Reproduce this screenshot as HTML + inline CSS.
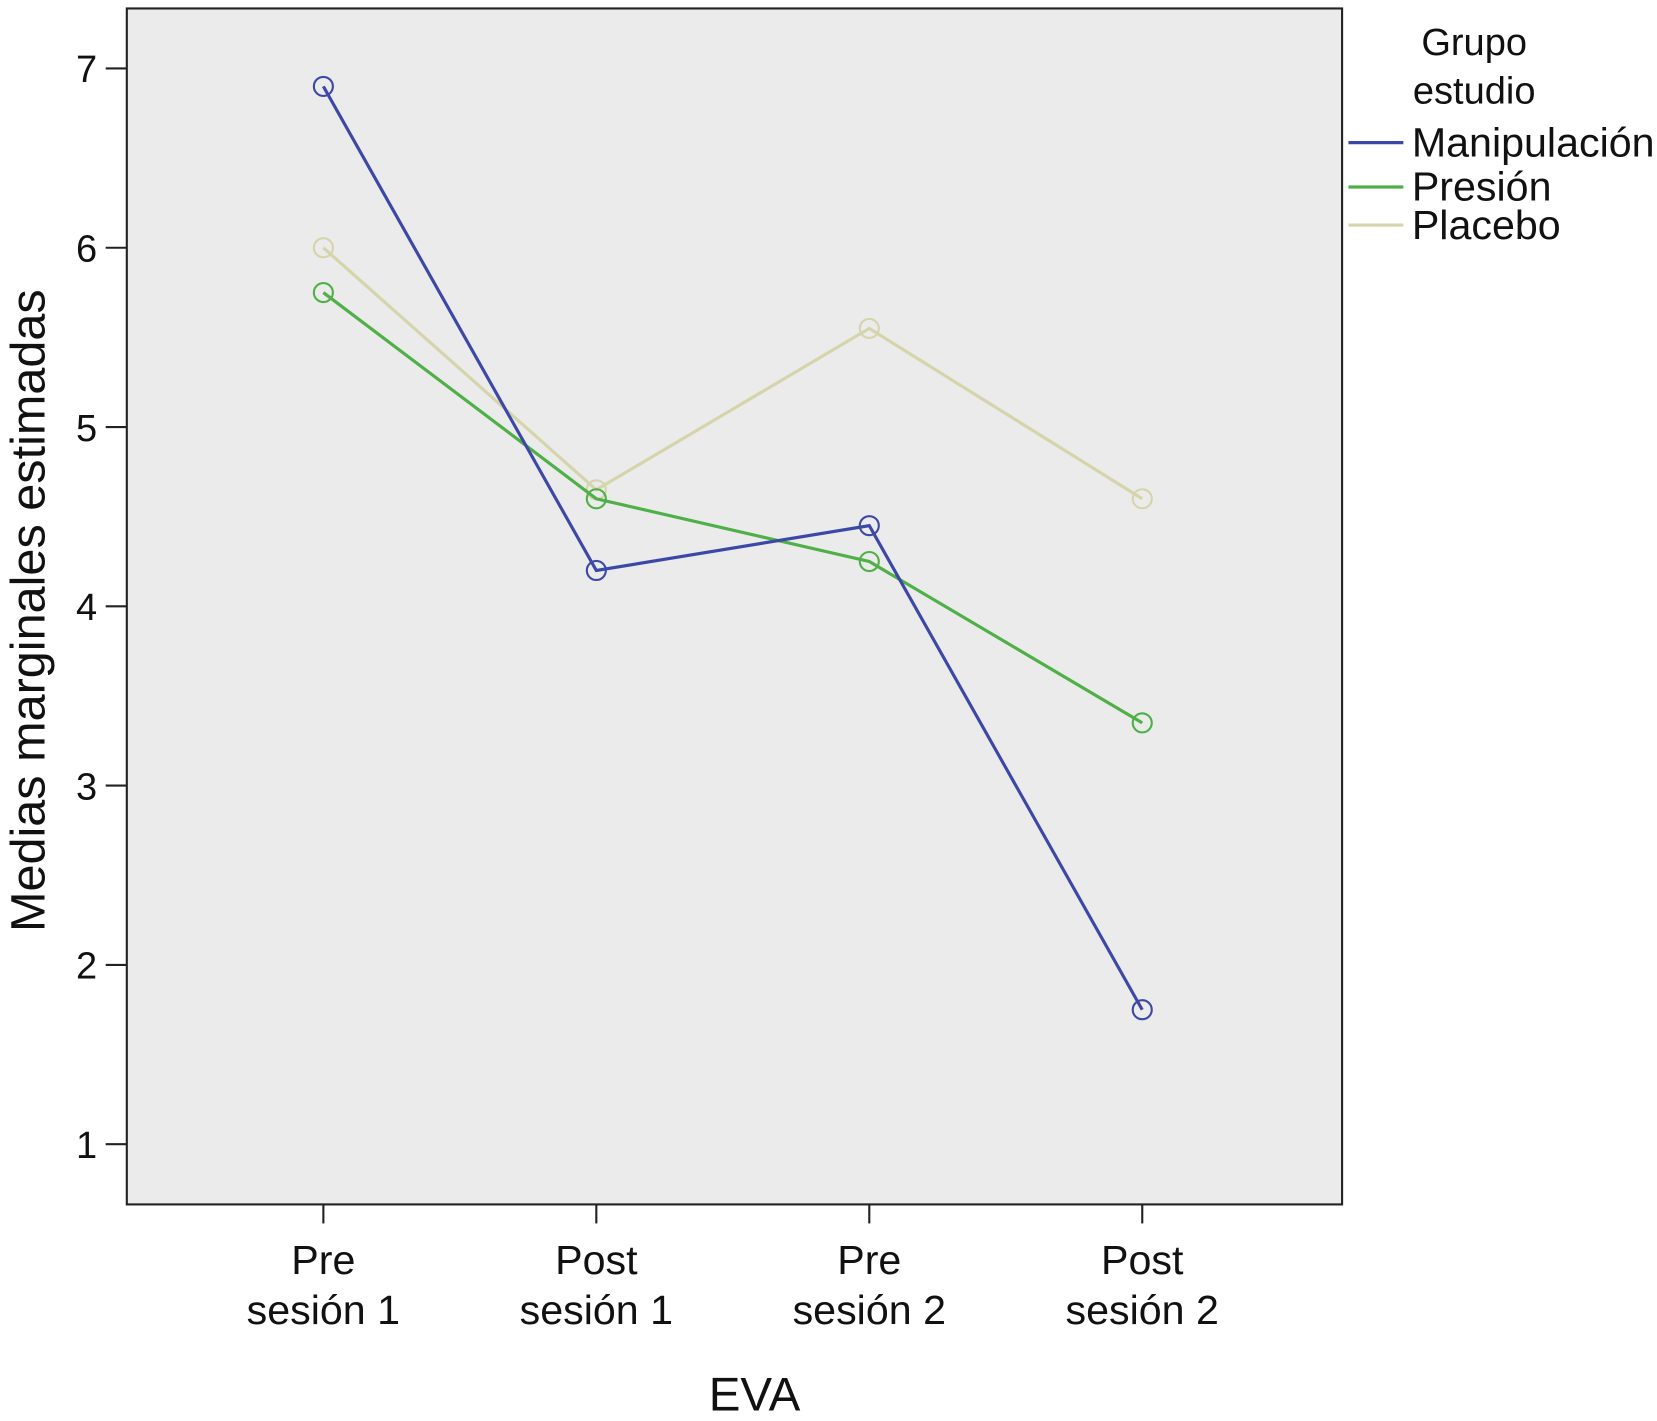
<!DOCTYPE html>
<html><head><meta charset="utf-8"><style>
html,body{margin:0;padding:0;background:#fff;}
svg{display:block;}
text{font-family:"Liberation Sans",sans-serif;fill:#111;}
</style></head><body>
<svg id="chart" width="1657" height="1421" viewBox="0 0 1568 1345" preserveAspectRatio="none" xmlns="http://www.w3.org/2000/svg">
<rect x="120" y="8" width="1150" height="1132" fill="#ebebeb" stroke="#222" stroke-width="2"/>
<g id="yaxis"></g>
<g id="xaxis"></g>
<g id="series"></g>
<text transform="translate(42,578) rotate(-90)" text-anchor="middle" font-size="46">Medias marginales estimadas</text>
<text x="714" y="1335" text-anchor="middle" font-size="45">EVA</text>
<g>
<text x="1345" y="52" font-size="36">Grupo</text>
<text x="1337" y="98" font-size="36">estudio</text>
<g id="legend"></g>
</g>
</svg>
<script>
const categories = ["Pre|sesión 1","Post|sesión 1","Pre|sesión 2","Post|sesión 2"];
const yTicks = [1,2,3,4,5,6,7];
const seriesNames = ["Manipulación","Presión","Placebo"];
const seriesColors = ["#3d48a6","#4fb047","#d6d4ab"];
const manipulacion = [6.9,4.2,4.45,1.75];
const presion = [5.75,4.6,4.25,3.35];
const placebo = [6.0,4.65,5.55,4.6];
const NS="http://www.w3.org/2000/svg";
function y(v){return 1083-(v-1)*169.7;}
function x(i){return 306+i*258.3;}
function mk(tag,attrs,parent){const e=document.createElementNS(NS,tag);for(const k in attrs)e.setAttribute(k,attrs[k]);parent.appendChild(e);return e;}
const ya=document.getElementById('yaxis');
yTicks.forEach(t=>{
 const l=mk('line',{x1:100,x2:120,y1:y(t),y2:y(t),stroke:'#222','stroke-width':2},ya);
 
 
 const tx=mk('text',{x:92,y:y(t)+13,'text-anchor':'end','font-size':36},ya);
 tx.textContent=t;
 
 
});
const xa=document.getElementById('xaxis');
categories.forEach((c,i)=>{
 const l=mk('line',{x1:x(i),x2:x(i),y1:1140,y2:1158,stroke:'#222','stroke-width':2},xa);
 
 
 const p=c.split('|');
 const t1=mk('text',{x:x(i),y:1206,'text-anchor':'middle','font-size':39},xa);
 t1.textContent=p[0];
 
 
 const t2=mk('text',{x:x(i),y:1253,'text-anchor':'middle','font-size':39},xa);
 t2.textContent=p[1];
 
 
});
const sg=document.getElementById('series');
const order=[2,1,0];
const all=[manipulacion,presion,placebo];
order.forEach(s=>{
 const d=all[s];
 const pl=mk('polyline',{points:d.map((v,i)=>x(i)+','+y(v)).join(' '),fill:'none',stroke:seriesColors[s],'stroke-width':3},sg);
 
 
 d.forEach((v,i)=>{
  const c=mk('circle',{cx:x(i),cy:y(v),r:9,fill:'none',stroke:seriesColors[s],'stroke-width':2},sg);
  
  
 });
});
const lg=document.getElementById('legend');
const ly=[135,177,213];
seriesNames.forEach((n,s)=>{
 const l=mk('line',{x1:1276,x2:1328,y1:ly[s],y2:ly[s],stroke:seriesColors[s],'stroke-width':3},lg);
 
 
 const t=mk('text',{x:1336,y:ly[s]+13,'font-size':39},lg);
 t.textContent=n;
 
 
});
</script>
</body></html>
